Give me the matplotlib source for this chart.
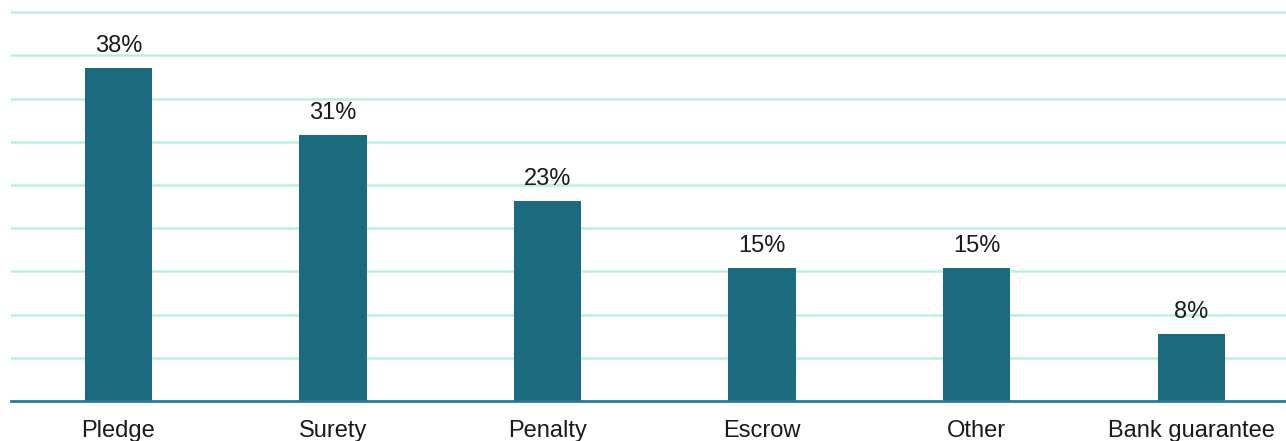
import matplotlib.pyplot as plt
import numpy as np

plt.rcParams['font.family'] = ['Liberation Sans', 'DejaVu Sans']

categories = ["Pledge", "Surety", "Penalty", "Escrow", "Other", "Bank guarantee"]
values = [38.5, 30.8, 23.1, 15.4, 15.4, 7.7]
labels = ["38%", "31%", "23%", "15%", "15%", "8%"]

W, H = 1286, 441
fig = plt.figure(figsize=(W / 100, H / 100), dpi=100)
left, bottom, top = 11, 401, 0
width_px = 6 * 214.6
ax = fig.add_axes([left / W, 1 - bottom / H, width_px / W, (bottom - top) / H])

x = np.arange(len(categories))
ax.bar(x, values, width=0.315, color="#1b6a7e", zorder=3)

for xi, v, lab in zip(x, values, labels):
    ax.annotate(lab, (xi, v), xytext=(0, 8), textcoords="offset points",
                ha="center", va="bottom", fontsize=17, color="#1a1a1a")

ax.set_xlim(-0.5, 5.5)
ax.set_ylim(0, 46.4)
ax.set_yticks(np.arange(5, 50, 5))
ax.yaxis.grid(True, color="#bdf0dc", linewidth=1.8, zorder=0)
ax.tick_params(axis="y", left=False, labelleft=False)
ax.set_xticks(x)
ax.set_xticklabels(categories, fontsize=17, color="#1a1a1a")
ax.tick_params(axis="x", length=0, pad=14)

for s in ["top", "right", "left"]:
    ax.spines[s].set_visible(False)
ax.spines["bottom"].set_color("#2f7a8a")
ax.spines["bottom"].set_linewidth(2)
ax.spines["bottom"].set_zorder(4)

fig.savefig("out.png", dpi=100)
